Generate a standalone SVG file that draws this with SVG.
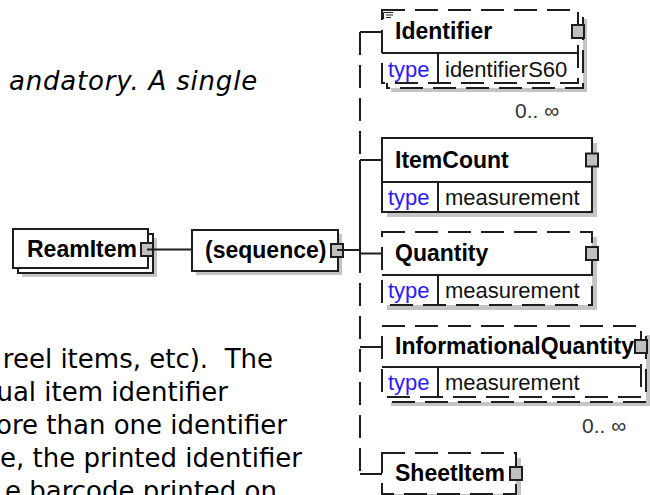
<svg xmlns="http://www.w3.org/2000/svg" width="650" height="495" viewBox="0 0 650 495">
<style>
.box{fill:#fff;stroke:#1e1e1e;stroke-width:2}
.dash{stroke-dasharray:23 10}
.shadow{fill:#c4c4c4}
.sq{fill:#c0c0c0;stroke:#1e1e1e;stroke-width:2}
.ln{fill:none;stroke:#1e1e1e;stroke-width:2}
.thin{fill:none;stroke:#1e1e1e;stroke-width:1.2}
.name{font-family:"Liberation Sans",Arial,sans-serif;font-weight:bold;font-size:23px;fill:#000}
.tk{font-family:"Liberation Sans",Arial,sans-serif;font-size:22px;fill:#2a1cff}
.tv{font-family:"Liberation Sans",Arial,sans-serif;font-size:22px;fill:#111}
.occ{font-family:"Liberation Sans",Arial,sans-serif;font-size:21px;fill:#333}
.para{font-family:"DejaVu Sans",Verdana,sans-serif;font-size:26px;fill:#000}
</style>
<rect width="650" height="495" fill="#fff"/>

<g id="description">
<text class="para" font-style="italic" font-size="27" letter-spacing="0.8" x="258" y="90" text-anchor="end">andatory. A single</text>
<text class="para" x="273" y="368" text-anchor="end" xml:space="preserve">reel items, etc).  The</text>
<text class="para" x="228" y="401" text-anchor="end">ual item identifier</text>
<text class="para" x="287" y="434" text-anchor="end">ore than one identifier</text>
<text class="para" x="302" y="467" text-anchor="end">e, the printed identifier</text>
<text class="para" x="277" y="500" text-anchor="end">e barcode printed on</text>
</g>

<g id="ReamItem">
<rect class="shadow" x="22" y="238" width="135" height="39"/>
<rect class="box" x="18" y="234" width="135" height="39"/>
<rect class="box" x="13" y="229" width="135" height="39"/>
<text class="name" x="27" y="257">ReamItem</text>
<rect class="sq" x="141" y="243" width="12" height="13"/>
</g>

<g id="sequence">
<rect class="shadow" x="196" y="234" width="146" height="41"/>
<rect class="box" x="192" y="230" width="146" height="41"/>
<text class="name" x="205" y="258">(sequence)</text>
<rect class="sq" x="331" y="244" width="12" height="13"/>
</g>

<g id="Identifier">
<rect class="shadow" x="391" y="19" width="196" height="73"/>
<rect class="box dash" x="387" y="15" width="196" height="73"/>
<rect class="box dash" x="382" y="10" width="196" height="73"/>
<line class="ln" x1="382" y1="53" x2="578" y2="53"/>
<line class="ln" x1="438" y1="53" x2="438" y2="83"/>
<path class="thin" d="M383.5 12.5 H393 M386 15 H393 M386 17.5 H391 M383.5 12.5 V19"/>
<text class="name" x="395" y="39">Identifier</text>
<text class="tk" x="388" y="77">type</text>
<text class="tv" x="445" y="77">identifierS60</text>
<rect class="sq" x="572" y="25" width="12" height="13"/>
<text class="occ" x="515" y="118">0.. ∞</text>
</g>

<g id="ItemCount">
<rect class="shadow" x="387" y="143" width="210" height="74"/>
<rect class="box" x="382" y="138" width="210" height="74"/>
<line class="ln" x1="382" y1="182" x2="592" y2="182"/>
<line class="ln" x1="438" y1="182" x2="438" y2="212"/>
<text class="name" x="395" y="168">ItemCount</text>
<text class="tk" x="388" y="205">type</text>
<text class="tv" x="445" y="205">measurement</text>
<rect class="sq" x="586" y="153.5" width="12" height="13"/>
</g>

<g id="Quantity">
<rect class="shadow" x="387" y="237" width="210" height="73"/>
<rect class="box dash" x="382" y="232" width="210" height="73"/>
<line class="ln" x1="382" y1="275" x2="592" y2="275"/>
<line class="ln" x1="438" y1="275" x2="438" y2="305"/>
<text class="name" x="395" y="261">Quantity</text>
<text class="tk" x="388" y="298">type</text>
<text class="tv" x="445" y="298">measurement</text>
<rect class="sq" x="586" y="247" width="12" height="13"/>
</g>

<g id="InformationalQuantity">
<rect class="shadow" x="391" y="335" width="259" height="71"/>
<rect class="box dash" x="387" y="331" width="259" height="71"/>
<rect class="box dash" x="382" y="326" width="259" height="71"/>
<line class="ln" x1="382" y1="367" x2="641" y2="367"/>
<line class="ln" x1="438" y1="367" x2="438" y2="397"/>
<text class="name" x="395" y="354">InformationalQuantity</text>
<text class="tk" x="388" y="390">type</text>
<text class="tv" x="445" y="390">measurement</text>
<rect class="sq" x="635" y="340" width="12" height="13"/>
<text class="occ" x="582" y="433">0.. ∞</text>
</g>

<g id="SheetItem">
<rect class="shadow" x="387" y="458" width="134" height="41"/>
<rect class="box dash" x="382" y="453" width="134" height="41"/>
<text class="name" x="395" y="481">SheetItem</text>
<rect class="sq" x="510" y="467" width="12" height="13"/>
</g>

<g id="connectors">
<line class="ln" x1="147" y1="249.5" x2="192" y2="249.5"/>
<line class="ln" x1="337" y1="250" x2="360" y2="250"/>
<path class="ln dash" d="M360 32 V160"/>
<path class="ln" d="M360 160 V250"/>
<path class="ln dash" d="M360 250 V474"/>
<path class="ln" d="M360 32 H382 M360 160 H382 M360 253.5 H382 M360 347 H382 M360 474 H382"/>
</g>
</svg>
